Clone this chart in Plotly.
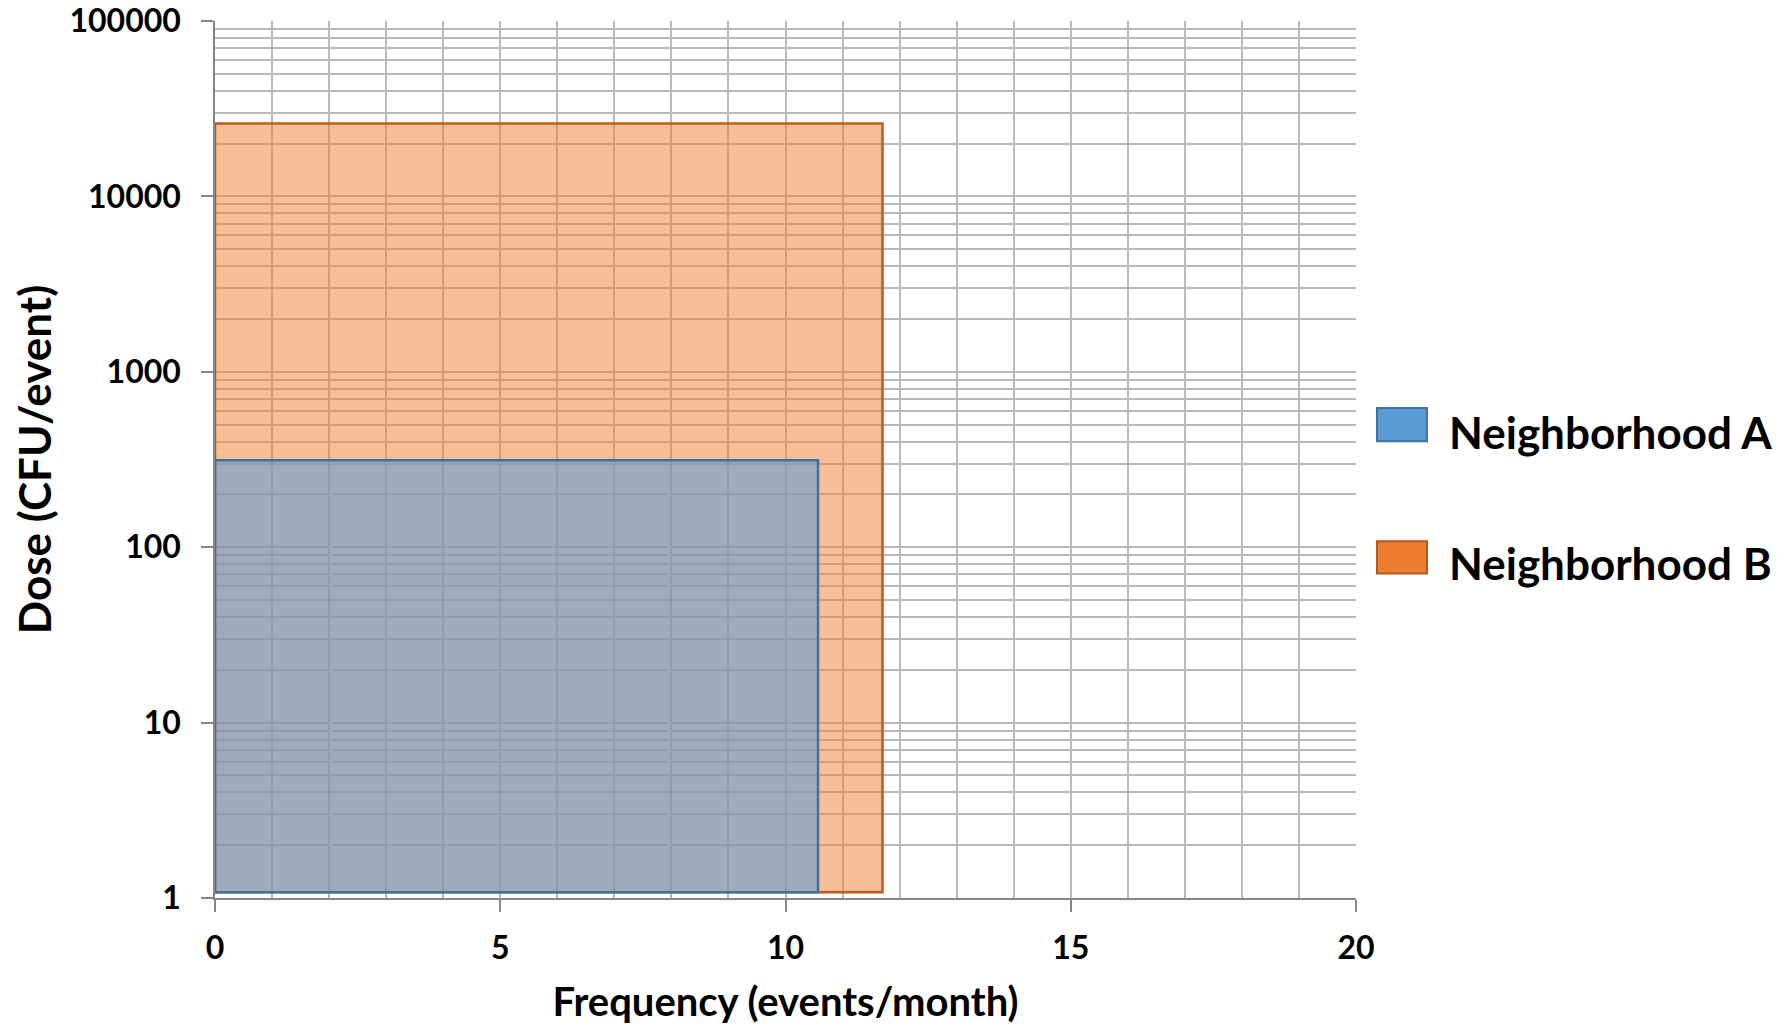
import plotly.graph_objects as go

# ---- data ----
neighborhoods = ["Neighborhood A", "Neighborhood B"]
freq_min = [0.0, 0.0]          # events/month
freq_max = [10.57, 11.7]       # events/month
dose_min = [1.08, 1.08]        # CFU/event
dose_max = [313, 26000]        # CFU/event

x_ticks = [0, 5, 10, 15, 20]
y_ticks = [1, 10, 100, 1000, 10000, 100000]
y_tick_labels = ["1", "10", "100", "1000", "10000", "100000"]

# ---- styles ----
fills = {"Neighborhood A": "rgba(91,155,213,0.56)", "Neighborhood B": "rgba(237,125,49,0.5)"}
lines = {"Neighborhood A": "#41719C", "Neighborhood B": "#C0591C"}
legend_fill = {"Neighborhood A": "#5B9BD5", "Neighborhood B": "#ED7D31"}
legend_line = {"Neighborhood A": "#41719C", "Neighborhood B": "#AE5A21"}

FONT = "Lato"
GRID = "#BABABA"
AXIS = "#868686"
GW = 1.5

fig = go.Figure()

# draw B first so A sits on top
for i in [1, 0]:
    name = neighborhoods[i]
    xs = [freq_min[i], freq_max[i], freq_max[i], freq_min[i], freq_min[i]]
    ys = [dose_min[i], dose_min[i], dose_max[i], dose_max[i], dose_min[i]]
    fig.add_trace(go.Scatter(
        x=xs, y=ys, mode="lines", fill="toself", name=name,
        fillcolor=fills[name], line=dict(color=lines[name], width=2.5),
        showlegend=False, hoverinfo="name",
    ))

minor_y = [m * 10 ** k for k in range(0, 5) for m in range(2, 10)]

fig.update_xaxes(
    range=[0, 20], tickvals=x_ticks, ticks="outside", ticklen=12, tickwidth=1.5,
    tickcolor=AXIS, showline=True, linecolor=AXIS, linewidth=1.5,
    showgrid=True, gridcolor=GRID, gridwidth=GW, zeroline=False, automargin=False,
    minor=dict(dtick=1, tick0=0, showgrid=True, gridcolor=GRID, gridwidth=GW, ticks=""),
    tickfont=dict(family=FONT, size=32, color="black", weight="bold"),
    ticklabelstandoff=9, ticklabeloverflow="allow",
    title=dict(text="Frequency (events/month)", standoff=24,
               font=dict(family=FONT, size=40, color="black", weight="bold")),
)
fig.update_yaxes(
    type="log", range=[0, 5], tickvals=y_ticks, ticktext=y_tick_labels,
    ticks="outside", ticklen=12, tickwidth=1.5, tickcolor=AXIS,
    showline=True, linecolor=AXIS, linewidth=1.5,
    showgrid=True, gridcolor=GRID, gridwidth=GW, zeroline=False, automargin=False,
    minor=dict(tickvals=minor_y, showgrid=True, gridcolor=GRID, gridwidth=GW, ticks=""),
    tickfont=dict(family=FONT, size=32, color="black", weight="bold"),
    ticklabelstandoff=14, ticklabeloverflow="allow",
    title=dict(text="Dose (CFU/event)", standoff=24,
               font=dict(family=FONT, size=44, color="black", weight="bold")),
)

# manual legend
legend_rows = [
    (neighborhoods[0], 0.5207, 0.5587, 0.531),
    (neighborhoods[1], 0.3699, 0.4067, 0.382),
]
for name, y0, y1, ty in legend_rows:
    fig.add_shape(type="rect", xref="paper", yref="paper", x0=1.0184, x1=1.0622,
                  y0=y0, y1=y1, fillcolor=legend_fill[name],
                  line=dict(color=legend_line[name], width=2))
    fig.add_annotation(xref="paper", yref="paper", x=1.0797, y=ty, text=name,
                       showarrow=False, xanchor="left", yanchor="middle",
                       font=dict(family=FONT, size=44, color="black", weight="bold"))

# page body has an 8px margin, so the figure is 8px smaller and margins shifted
fig.update_layout(
    width=1782, height=1017,
    margin=dict(l=207, r=434, t=13, b=127),
    plot_bgcolor="white", paper_bgcolor="white",
)

fig.write_html("out.html")
